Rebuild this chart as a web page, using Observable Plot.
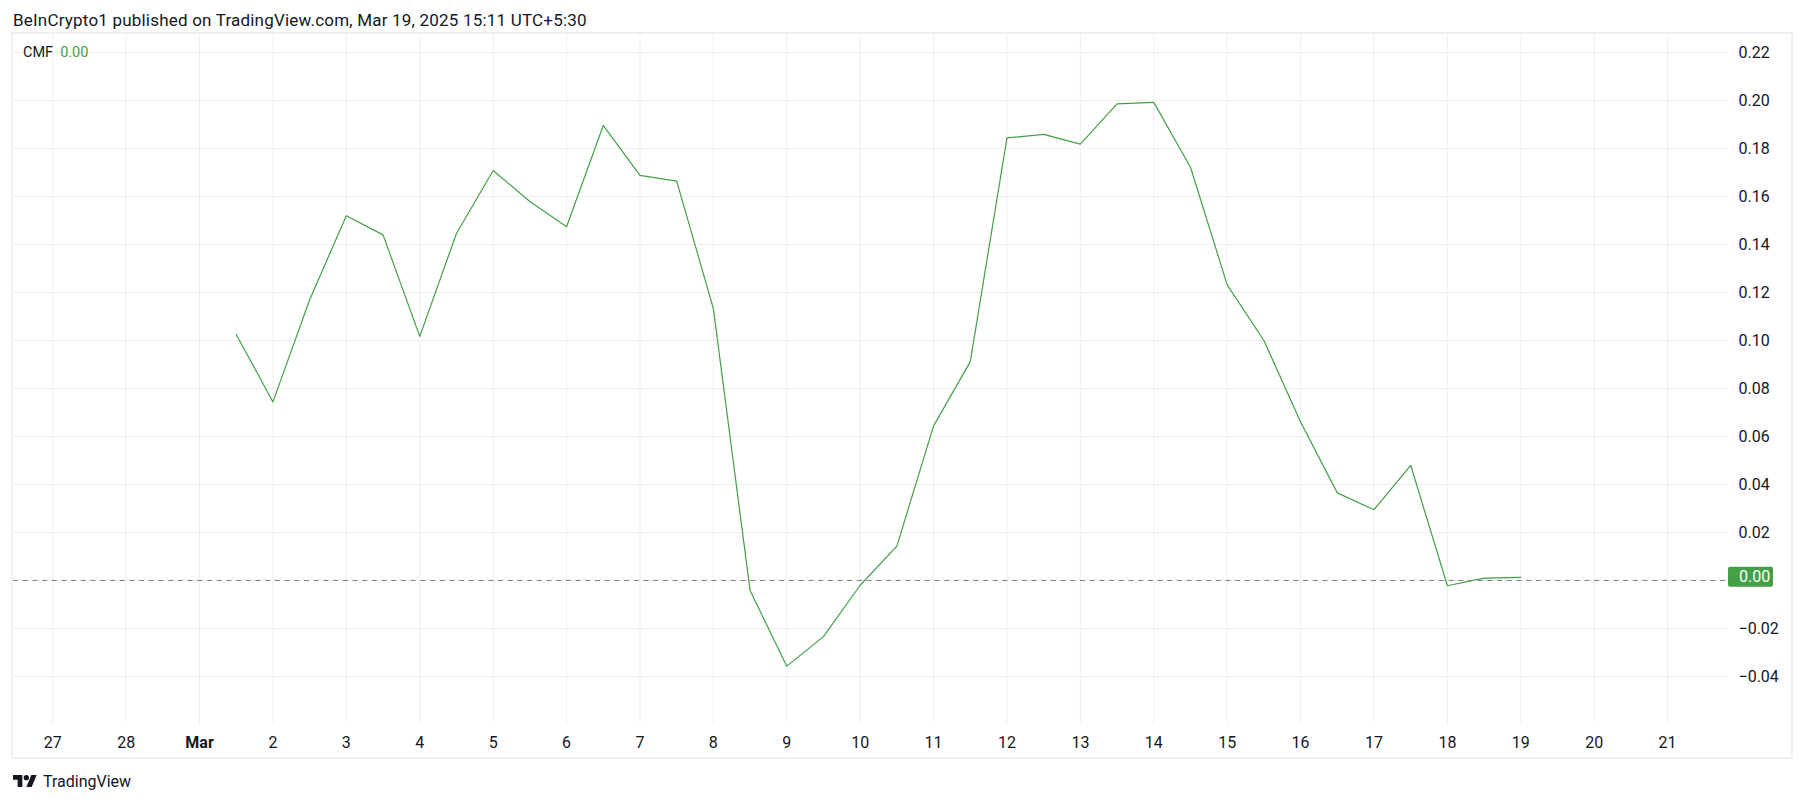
<!DOCTYPE html>
<html>
<head>
<meta charset="utf-8">
<script src="https://cdn.jsdelivr.net/npm/d3@7"></script>
<script src="https://cdn.jsdelivr.net/npm/@observablehq/plot@0.6"></script>
<style>
  html, body { margin: 0; padding: 0; background: #ffffff; }
  body { font-family: Roboto, "Noto Sans", sans-serif; color: #131722; }
  #wrap { position: relative; width: 1805px; height: 803px; overflow: hidden; }
  #title { position: absolute; left: 13px; top: 11px; font-size: 17px; letter-spacing: 0.2px; line-height: 18px; white-space: nowrap; }
  #chart { position: absolute; left: 0; top: 33px; }
  #panel { position: absolute; left: 11px; top: 32px; width: 1778px; height: 723px; border: 2px solid #f0f0f0; pointer-events: none; }
  #legend { position: absolute; left: 23px; top: 45px; font-size: 14.5px; line-height: 16px; white-space: nowrap; }
  #legend .v { color: #43a047; margin-left: 7px; }
  #footer { position: absolute; left: 13px; top: 772px; height: 18px; display: flex; align-items: center; font-size: 16px; white-space: nowrap; }
  #footer svg { margin-right: 6px; }
</style>
</head>
<body>
<div id="wrap">
  <div id="title"></div>
  <div id="chart"></div>
  <div id="panel"></div>
  <div id="legend"></div>
  <div id="footer">
    <svg width="24" height="12" viewBox="0 4 36 18"><path d="M14 22H7V11H0V4h14v18zM28 22h-8l7.5-18h8L28 22z" fill="#131722"/><circle cx="20" cy="8" r="4" fill="#131722"/></svg>
    <span>TradingView</span>
  </div>
</div>
<script>
// ---- data ----
const titleText = "BeInCrypto1 published on TradingView.com, Mar 19, 2025 15:11 UTC+5:30";
const indicatorName = "CMF";
const dates = [
  "2025-03-01T12:00Z","2025-03-02T00:00Z","2025-03-02T12:00Z","2025-03-03T00:00Z","2025-03-03T12:00Z",
  "2025-03-04T00:00Z","2025-03-04T12:00Z","2025-03-05T00:00Z","2025-03-05T12:00Z","2025-03-06T00:00Z",
  "2025-03-06T12:00Z","2025-03-07T00:00Z","2025-03-07T12:00Z","2025-03-08T00:00Z","2025-03-08T12:00Z",
  "2025-03-09T00:00Z","2025-03-09T12:00Z","2025-03-10T00:00Z","2025-03-10T12:00Z","2025-03-11T00:00Z",
  "2025-03-11T12:00Z","2025-03-12T00:00Z","2025-03-12T12:00Z","2025-03-13T00:00Z","2025-03-13T12:00Z",
  "2025-03-14T00:00Z","2025-03-14T12:00Z","2025-03-15T00:00Z","2025-03-15T12:00Z","2025-03-16T00:00Z",
  "2025-03-16T12:00Z","2025-03-17T00:00Z","2025-03-17T12:00Z","2025-03-18T00:00Z","2025-03-18T12:00Z",
  "2025-03-19T00:00Z"
];
const cmf = [
  0.1025, 0.0744, 0.117, 0.152, 0.144,
  0.1017, 0.1446, 0.1708, 0.1579, 0.1474,
  0.1896, 0.1688, 0.1664, 0.1133, -0.0042,
  -0.0357, -0.0234, -0.002, 0.0143, 0.0644,
  0.0912, 0.1844, 0.1859, 0.1818, 0.1986,
  0.1992, 0.1722, 0.1232, 0.100, 0.066,
  0.0365, 0.0295, 0.048, -0.0022, 0.001,
  0.0013
];
const xTickDates = [
  "2025-02-27","2025-02-28","2025-03-01","2025-03-02","2025-03-03","2025-03-04","2025-03-05","2025-03-06",
  "2025-03-07","2025-03-08","2025-03-09","2025-03-10","2025-03-11","2025-03-12","2025-03-13","2025-03-14",
  "2025-03-15","2025-03-16","2025-03-17","2025-03-18","2025-03-19","2025-03-20","2025-03-21"
];
const xTickLabels = ["27","28","Mar","2","3","4","5","6","7","8","9","10","11","12","13","14","15","16","17","18","19","20","21"];
const yTicks = [-0.04, -0.02, 0.00, 0.02, 0.04, 0.06, 0.08, 0.10, 0.12, 0.14, 0.16, 0.18, 0.20, 0.22];
const xDomain = ["2025-02-26T11:10Z", "2025-03-21T19:35Z"];
const yDomain = [-0.0596, 0.2275];

// ---- build ----
const data = dates.map((d, i) => ({date: new Date(d), value: cmf[i]}));
const xTicks = xTickDates.map(d => new Date(d + "T00:00Z"));
const labelByTime = new Map(xTicks.map((d, i) => [+d, xTickLabels[i]]));
const fmt = d3.format(".2f");
const minus = v => fmt(v).replace("-", "\u2212");
const lastValue = cmf[cmf.length - 1];

document.getElementById("title").textContent = titleText;
document.getElementById("legend").innerHTML = indicatorName + '<span class="v">' + fmt(lastValue) + '</span>';

const GREEN = "#43a047";
const GRID = "#efefef";

function lastValueBox(index, scales, values, dims) {
  const y = scales.y(lastValue);
  const x0 = dims.width - dims.marginRight + 1;
  const g = d3.create("svg:g");
  g.append("rect").attr("x", x0).attr("y", y - 10).attr("width", 45).attr("height", 20).attr("rx", 2).attr("fill", GREEN);
  g.append("text").attr("x", x0 + 11).attr("y", y).attr("dy", "0.35em")
    .attr("text-anchor", "start")
    .attr("fill", "#ffffff").attr("font-size", 16).attr("font-family", "Roboto, sans-serif")
    .text(minus(lastValue));
  return g.node();
}

const chart = Plot.plot({
  width: 1805,
  height: 725,
  marginLeft: 13,
  marginRight: 78,
  marginTop: 1,
  marginBottom: 35,
  style: {fontFamily: "Roboto, sans-serif", fontSize: "16px", color: "#131722", background: "transparent"},
  x: {type: "utc", domain: xDomain.map(d => new Date(d)), axis: null, label: null},
  y: {domain: yDomain, axis: null, label: null},
  marks: [
    Plot.gridX(xTicks, {stroke: GRID, strokeOpacity: 1, strokeWidth: 1}),
    Plot.gridY(yTicks, {stroke: GRID, strokeOpacity: 1, strokeWidth: 1}),
    Plot.ruleY([0], {stroke: "#787b86", strokeWidth: 1, strokeDasharray: "5,4.7"}),
    Plot.lineY(data, {x: "date", y: "value", stroke: GREEN, strokeWidth: 1.2}),
    Plot.axisX(xTicks, {tickSize: 0, tickPadding: 13, tickFormat: d => labelByTime.get(+d), fontSize: 16, fill: "#131722", label: null}),
    Plot.axisY(yTicks.filter(v => v !== 0), {anchor: "right", tickSize: 0, tickPadding: 11, tickFormat: minus, fontSize: 16, fill: "#131722", label: null}),
    lastValueBox
  ]
});
document.getElementById("chart").appendChild(chart);
d3.select(chart).selectAll("text").filter(function() { return this.textContent === "Mar"; }).attr("font-weight", "bold");
</script>
</body>
</html>
